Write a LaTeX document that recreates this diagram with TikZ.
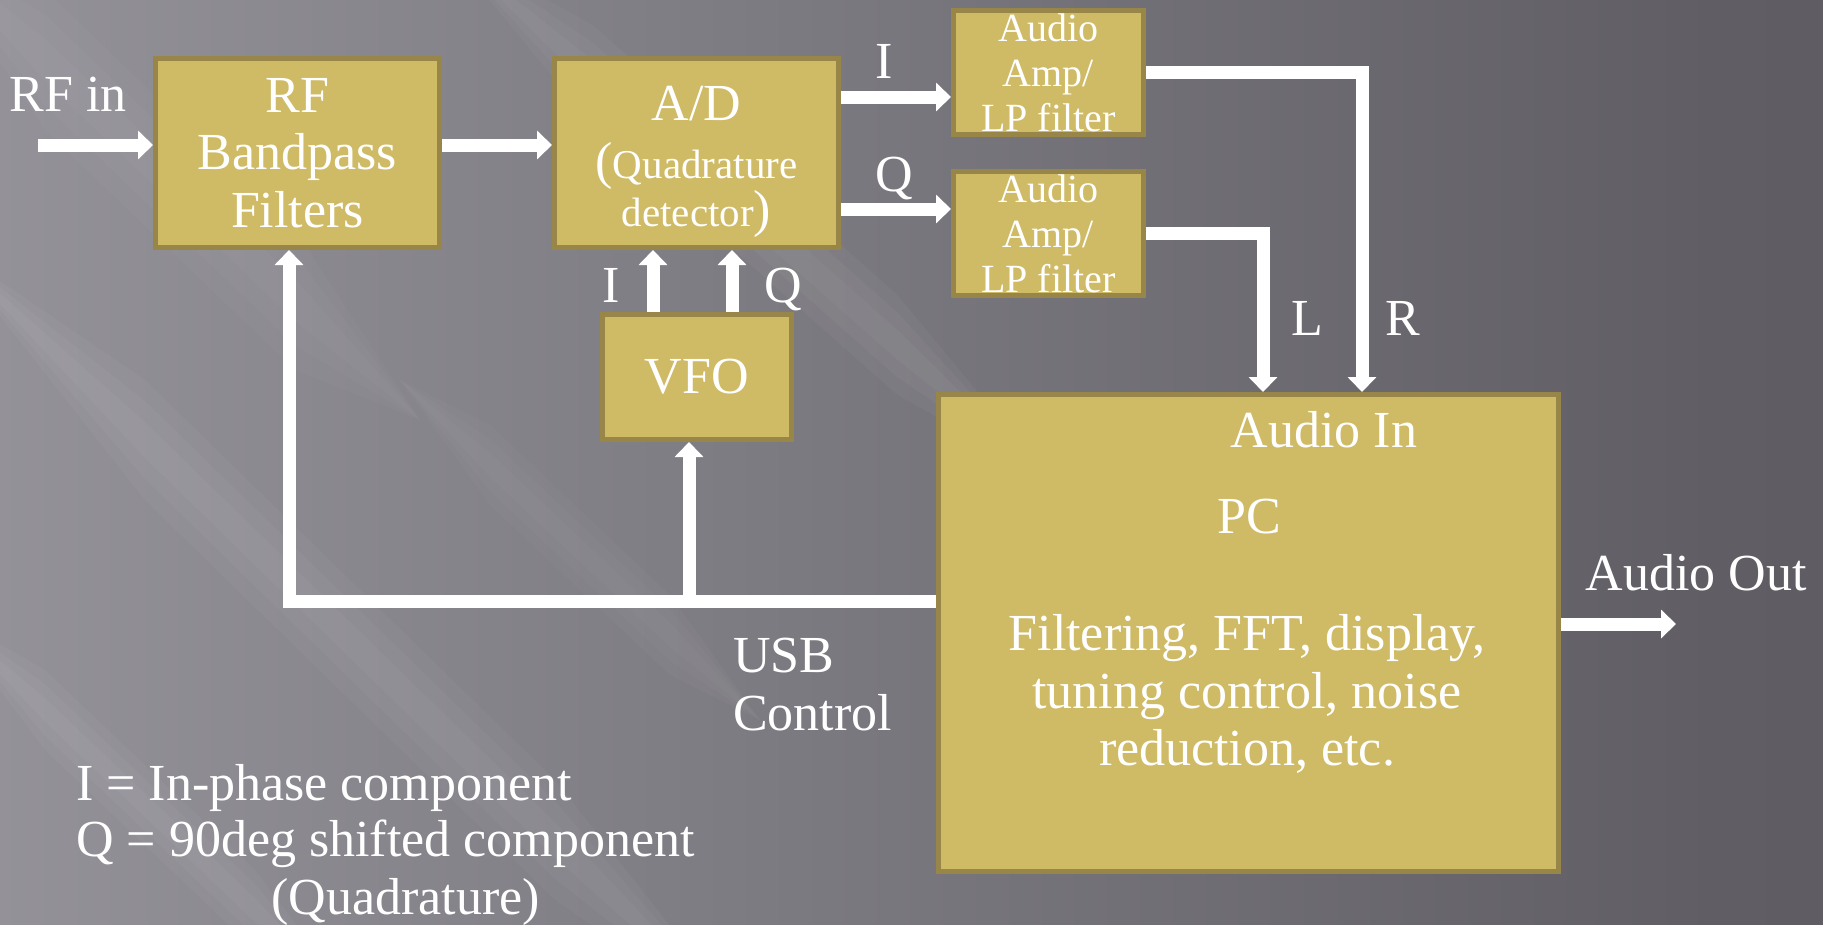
\documentclass[tikz,border=0pt]{standalone}
\usepackage{fontspec}
\setmainfont{Liberation Serif}
\usetikzlibrary{arrows.meta,calc}
\definecolor{boxfill}{RGB}{207,186,102}
\definecolor{boxline}{RGB}{152,134,72}
\definecolor{bgA}{RGB}{162,159,167}
\definecolor{bgB}{RGB}{126,124,131}
\definecolor{bgC}{RGB}{96,94,100}
\definecolor{bgD}{RGB}{86,84,90}
\pgfdeclarehorizontalshading{slidebg}{100bp}{color(0bp)=(bgA); color(12bp)=(bgA); color(45bp)=(bgB); color(72bp)=(bgC); color(100bp)=(bgD)}
\newcommand\fntL{\fontsize{52}{57.5}\selectfont}
\newcommand\fntM{\fontsize{41}{47}\selectfont}
\newcommand\fntS{\fontsize{40}{45}\selectfont}
% soft light streak: start, end, half width, opacity per layer
\newcommand\lightstreak[4]{%
  \foreach \ww in {#3, 0.65*#3, 0.3*#3} {%
    \fill[white, opacity=#4] (#1) -- ($(#1)!0.25!(#2)+(0,-\ww)$) -- ($(#1)!0.75!(#2)+(0,-\ww)$) -- (#2)
      -- ($(#1)!0.75!(#2)+(0,\ww)$) -- ($(#1)!0.25!(#2)+(0,\ww)$) -- cycle;
  }}
\begin{document}
\begin{tikzpicture}[x=1pt,y=-1pt,
  blk/.style={draw=boxline, fill=boxfill, line width=5pt, inner sep=0pt, text=white, align=center},
  arr/.style={draw=white, line width=13pt, line join=miter, -{Triangle[width=28pt,length=15pt]}},
  lbl/.style={text=white, inner sep=0pt, font=\fntL}]
\useasboundingbox (0,0) rectangle (1823,924);
% background
\begin{scope}
\clip (0,0) rectangle (1823,924);
\shade[shading=slidebg] (0,0) rectangle (1823,924);
\lightstreak{-60,240}{760,1040}{60}{0.03}
\lightstreak{440,-60}{1050,480}{50}{0.03}
\lightstreak{-60,610}{360,1010}{40}{0.03}
\lightstreak{-80,-60}{420,420}{70}{0.025}
\lightstreak{400,380}{760,720}{40}{0.025}
\end{scope}
% boxes
\node[blk, minimum width=284pt, minimum height=189pt, font=\fntL] (rf) at (297.5,153) {RF\\Bandpass\\Filters};
\node[blk, minimum width=284pt, minimum height=189pt, font=\fntM] (ad) at (696.5,153) {{\fntL\rule{0pt}{52pt}A/D}\\[11pt]{\fntL(}Quadrature\\detector{\fntL)}};
\node[blk, minimum width=190pt, minimum height=124pt, font=\fntS] (amp1) at (1048.5,72.5) {Audio\\Amp/\\LP filter};
\node[blk, minimum width=190pt, minimum height=124pt, font=\fntS] (amp2) at (1048.5,233.5) {Audio\\Amp/\\LP filter};
\node[blk, minimum width=189pt, minimum height=125pt, font=\fntL] (vfo) at (697,377) {VFO};
\node[blk, minimum width=620pt, minimum height=477pt] (pc) at (1248.5,633) {};
% texts
\node[lbl, anchor=base] (rfinlbl) at (68,111) {RF in};
\node[lbl, anchor=base] (ilbl) at (884,78) {I};
\node[lbl, anchor=base] (qlbl) at (894,191) {Q};
\node[lbl, anchor=base] (vilbl) at (611,302) {I};
\node[lbl, anchor=base] (vqlbl) at (783,302) {Q};
\node[lbl, anchor=base] (llbl) at (1307,335) {L};
\node[lbl, anchor=base] (rlbl) at (1403,335) {R};
\node[lbl, anchor=base] (audioin) at (1324,447) {Audio In};
\node[lbl, anchor=base] (pclbl) at (1249,533) {PC};
\node[lbl, align=center] (pcdesc) at (1247,694) {Filtering, FFT, display,\\tuning control, noise\\reduction, etc.};
\node[lbl, anchor=base] (aoutlbl) at (1696,590) {Audio Out};
\node[lbl, align=left, anchor=north west] (usblbl) at (733,638) {USB\\Control};
\node[lbl, anchor=base west] (leg1) at (76,800) {I = In-phase component};
\node[lbl, anchor=base west] (leg2) at (76,856) {Q = 90deg shifted component};
\node[lbl, anchor=base west] (leg3) at (271,914) {(Quadrature)};
% connectors
\coordinate (rfin) at (38,145);
\coordinate (iy) at (0,97);
\coordinate (qy) at (0,209);
\coordinate (rx) at (1362,72);
\coordinate (lx) at (1263,233);
\coordinate (vi) at (653,0);
\coordinate (vq) at (732,0);
\coordinate (usbc) at (289,601);
\coordinate (usbv) at (689,601);
\coordinate (aout) at (1676,624);
\draw[arr] (rfin) -- (rfin -| rf.west);
\draw[arr] (rf.east |- rfin) -- (ad.west |- rfin);
\draw[arr] (ad.east |- iy) -- (amp1.west |- iy);
\draw[arr] (ad.east |- qy) -- (amp2.west |- qy);
\draw[arr] (amp1.east |- rx) -- (rx) -- (rx |- pc.north);
\draw[arr] (amp2.east |- lx) -- (lx) -- (lx |- pc.north);
\draw[arr] (vi |- vfo.north) -- (vi |- ad.south);
\draw[arr] (vq |- vfo.north) -- (vq |- ad.south);
\draw[arr] (pc.west |- usbc) -- (usbc) -- (usbc |- rf.south);
\draw[arr] (usbv) -- (usbv |- vfo.south);
\draw[arr] (pc.east |- aout) -- (aout);
\end{tikzpicture}
\end{document}
